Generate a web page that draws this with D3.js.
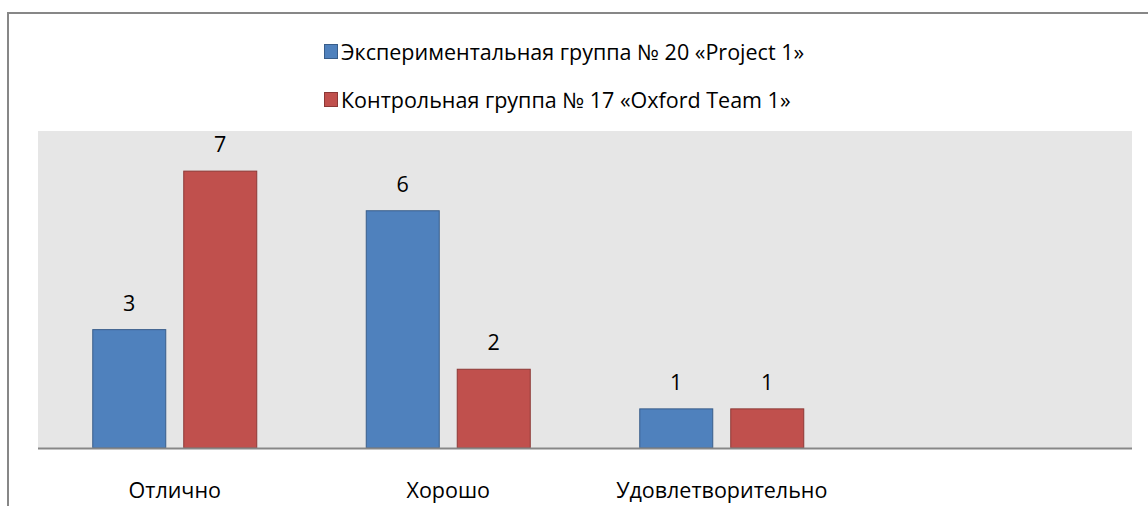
<!DOCTYPE html>
<html>
<head>
<meta charset="utf-8">
<script src="https://cdn.jsdelivr.net/npm/d3@7"></script>
<style>
    body { margin: 0; background: #fff; }
    svg text { font-family: "Open Sans", "Noto Sans", sans-serif; fill: #000; }
</style>
</head>
<body>
<div id="chart"></div>
<script>
// categories (the fourth slot is empty in the original sheet)
const categories = ["Отлично", "Хорошо", "Удовлетворительно", ""];
const seriesNames = [
    "Экспериментальная группа № 20 «Project 1»",
    "Контрольная группа № 17 «Oxford Team 1»"
];
const experimental = [3, 6, 1, null];
const control = [7, 2, 1, null];

const width = 1148, height = 506;
const fills = ["#4f81bd", "#c0504d"];
const strokes = ["#385d8a", "#8c3836"];
const fontSize = 21.5;

let svg = d3.select("#chart").append("svg")
    .attr("width", width)
    .attr("height", height);

/*
 *  Outer frame, cut at right and bottom like the source image.
 */
svg.append("path")
    .attr("d", "M8," + height + "L8,13L" + width + ",13")
    .attr("fill", "none")
    .attr("stroke", "#878787")
    .attr("stroke-width", 2);

let plot = {left: 38, right: 1132, top: 131, bottom: 448};

let x = d3.scaleBand()
    .domain(categories.map((c, i) => i))
    .range([plot.left, plot.right]);

let y = d3.scaleLinear()
    .domain([0, 8])
    .range([plot.bottom, plot.top]);

svg.append("rect")
    .attr("x", plot.left)
    .attr("y", plot.top)
    .attr("width", plot.right - plot.left)
    .attr("height", plot.bottom - plot.top)
    .attr("fill", "#e6e6e6");

// inner band for the two bars of one category
let x1 = d3.scaleBand()
    .domain([0, 1])
    .range([54.25, x.bandwidth() - 54.25])
    .paddingInner(0.1868);

[experimental, control].forEach(function(values, s) {
    let g = svg.append("g");
    values.forEach(function(v, i) {
        if(v === null) {
            return;
        }
        let bx = x(i) + x1(s);
        g.append("rect")
            .attr("x", bx + 0.5)
            .attr("y", y(v) + 0.5)
            .attr("width", x1.bandwidth() - 1)
            .attr("height", y(0) - y(v) - 0.5)
            .attr("fill", fills[s])
            .attr("stroke", strokes[s])
            .attr("stroke-width", 1);

        g.append("text")
            .attr("x", bx + x1.bandwidth() / 2)
            .attr("y", y(v) - 27)
            .attr("text-anchor", "middle")
            .attr("dominant-baseline", "central")
            .attr("font-size", fontSize)
            .text(v);
    });
});

// category axis
let axis = d3.axisBottom(x)
    .tickSize(0)
    .tickPadding(0)
    .tickFormat(i => categories[i]);

let axisG = svg.append("g")
    .attr("transform", "translate(0," + plot.bottom + ")")
    .call(axis);

axisG.attr("font-family", null);

axisG.select(".domain")
    .attr("d", "M" + plot.left + ",0.5H" + plot.right)
    .attr("stroke", "#878787")
    .attr("stroke-width", 2);

axisG.selectAll(".tick text")
    .attr("y", 41)
    .attr("dy", null)
    .attr("dominant-baseline", "central")
    .attr("font-size", fontSize)
    .attr("fill", "#000");

/*
 *  Legend, two rows centred above the plot.
 */
let legend = svg.append("g");
seriesNames.forEach(function(name, s) {
    let row = legend.append("g")
        .attr("transform", "translate(324," + (51.5 + s * 48) + ")");
    row.append("rect")
        .attr("x", 0.5)
        .attr("y", -7)
        .attr("width", 13)
        .attr("height", 14)
        .attr("fill", fills[s])
        .attr("stroke", strokes[s]);
    row.append("text")
        .attr("x", 17)
        .attr("dominant-baseline", "central")
        .attr("font-size", fontSize)
        .text(name);
});
</script>
</body>
</html>
